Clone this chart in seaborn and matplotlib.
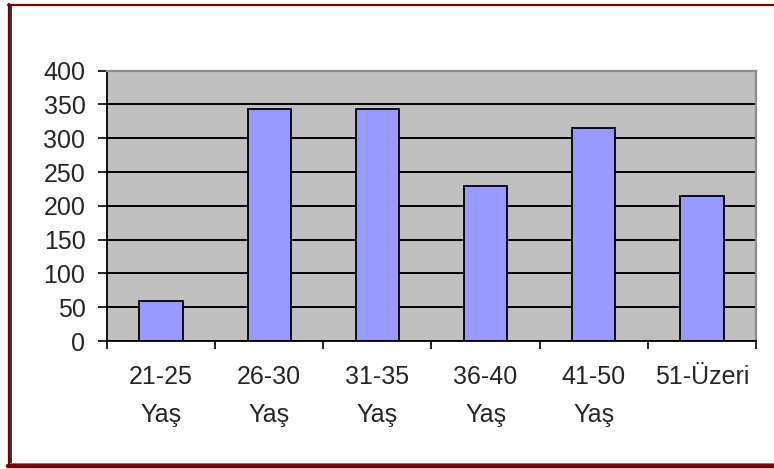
import numpy as np
import matplotlib
matplotlib.use("Agg")
import matplotlib.pyplot as plt
from matplotlib.lines import Line2D
import seaborn as sns

# data
age_groups = ["21-25\nYaş", "26-30\nYaş", "31-35\nYaş", "36-40\nYaş", "41-50\nYaş", "51-Üzeri"]
counts = [59, 344, 344, 230, 315, 215]
y_ticks = [0, 50, 100, 150, 200, 250, 300, 350, 400]

W, H = 774, 469

sns.set_style("white")
plt.rcParams['font.family'] = ['Liberation Sans', 'DejaVu Sans']

fig = plt.figure(figsize=(W / 100, H / 100), dpi=100)
fig.patch.set_facecolor("white")
ax = fig.add_axes([107 / W, 128 / H, 649 / W, 270.3 / H])
ax.set_facecolor("#C0C0C0")

sns.barplot(x=list(range(len(counts))), y=counts, color="#9999FF", saturation=1,
            edgecolor="black", linewidth=1.3, width=0.4, ax=ax, zorder=3)

ax.set_xlim(-0.5, len(counts) - 0.5)
ax.set_ylim(0, 400)
ax.set_yticks(y_ticks)
ax.yaxis.grid(True, color="black", linewidth=1.4, zorder=1)
ax.set_axisbelow(True)

# ticks between categories, labels at the centres
ax.set_xticks(np.arange(-0.5, len(counts), 1))
ax.set_xticklabels([])
ax.set_xticks(np.arange(len(counts)), minor=True)
labels = ax.set_xticklabels(age_groups, minor=True, fontsize=18)
for t in labels:
    t.set_linespacing(1.75)
ax.tick_params(axis="x", which="major", direction="out", length=6, width=1.2, color="black", bottom=True)
ax.tick_params(axis="x", which="minor", length=0, pad=17, bottom=True)
ax.tick_params(axis="y", direction="out", length=6.5, width=1.2, color="black", labelsize=18, pad=9, left=True)
ax.set_xlabel("")
ax.set_ylabel("")

for side in ["left", "bottom"]:
    ax.spines[side].set_color("black")
    ax.spines[side].set_linewidth(1.3)
for side in ["top", "right"]:
    ax.spines[side].set_visible(True)
    ax.spines[side].set_color("#8C8C8C")
    ax.spines[side].set_linewidth(1.6)

# chart frame (dark red, runs off the right edge)
red = "#800000"
fig.add_artist(Line2D([8 / W, 1], [1 - 5 / H, 1 - 5 / H], color=red, lw=1.6))
fig.add_artist(Line2D([9 / W, 9 / W], [3 / H, 1 - 4 / H], color=red, lw=1.6))
fig.add_artist(Line2D([11 / W, 11 / W], [6 / H, 1 - 6 / H], color="black", lw=1.1))
fig.add_artist(Line2D([8 / W, 1], [3 / H, 3 / H], color=red, lw=3.2))
fig.add_artist(Line2D([11 / W, 1], [6 / H, 6 / H], color="#808080", lw=0.8))

fig.savefig("out.png", dpi=100)
